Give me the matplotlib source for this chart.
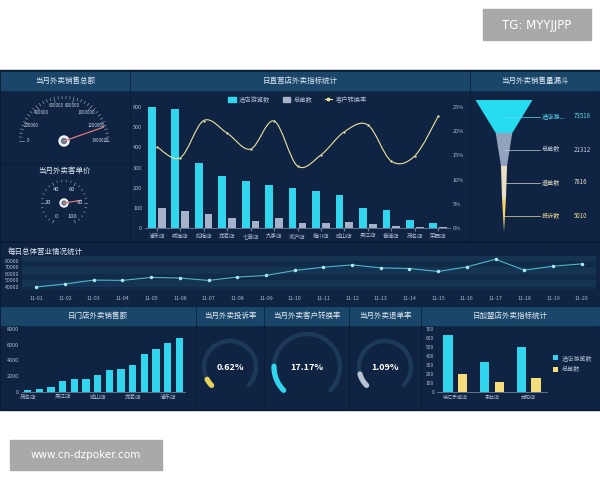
import numpy as np
import matplotlib.pyplot as plt
from matplotlib.patches import Rectangle, Polygon, Circle, PathPatch
from matplotlib.path import Path
from matplotlib.lines import Line2D

plt.rcParams['font.family'] = ['Noto Sans CJK SC', 'DejaVu Sans']

# ---- data ----
stores = ['浦东店', '威海店', '虹梅店', '龙茗店', '七莘店', '九亭店', '淞沪店',
          '梅川店', '成山店', '吴江店', '青浦店', '茂名店', '荣西店']
visits = [600, 592, 322, 258, 232, 215, 200, 183, 165, 98, 87, 38, 25]
orders = [100, 85, 70, 50, 35, 48, 25, 27, 32, 18, 10, 5, 5]
conv_rate = [16.8, 14.5, 22.2, 19.6, 16.3, 22.1, 12.8, 15.1, 19.9, 21.3, 13.8, 14.9, 23.1]

total_sales = 1250000
sales_ticks = [0, 200000, 400000, 600000, 800000, 1000000, 1200000, 1400000]
avg_price = 77
price_ticks = [0, 20, 40, 60, 80, 100]

funnel_labels = ['进店游...', '总单数', '退单数', '投诉数']
funnel_values = [73518, 21312, 7816, 5010]

days = ['11-01', '11-02', '11-03', '11-04', '11-05', '11-06', '11-07', '11-08', '11-09', '11-10',
        '11-11', '11-12', '11-13', '11-14', '11-15', '11-16', '11-17', '11-18', '11-19', '11-20']
daily_total = [40000, 44500, 50500, 50000, 54500, 53500, 50000, 55000, 57500, 65000,
               70000, 73500, 69000, 68000, 63500, 70500, 82000, 65500, 71500, 75000]

shop_names = ['茂名店', '荣西店', '青浦店', '吴江店', '梅川店', '淞沪店', '成山店',
              '九亭店', '七莘店', '龙茗店', '虹梅店', '威海店', '浦东店', '松江店']
shop_sales = [300, 420, 680, 1350, 1600, 1600, 2200, 2750, 2950, 3400, 4800, 5450, 6200, 6850]

complaint_rate = 0.62
convert_rate = 17.17
refund_rate = 1.09

franchise = ['徐汇乐城店', '东兰店', '龙柏店']
fr_visits = [630, 333, 500]
fr_orders = [200, 111, 155]

# ---- colours ----
BG = '#0a1a31'
PANEL = '#0e2442'
HEAD = '#1a4669'
TXT = '#e3ebf4'
TICK = '#aebdd0'
CYAN = '#31d6ee'
GRAY = '#a6b2c9'
YEL = '#f6dc7a'
RING = '#1c3a58'

fig = plt.figure(figsize=(6, 4.8), dpi=100)
fig.patch.set_facecolor('white')


def px(x, y, w, h):
    return [x / 600, 1 - (y + h) / 480, w / 600, h / 480]


bg = fig.add_axes([0, 0, 1, 1], zorder=0)
bg.set_xlim(0, 600)
bg.set_ylim(480, 0)
bg.axis('off')

bg.add_patch(Rectangle((0, 70), 600, 340, color=BG))

panels = [(1, 72, 128, 90), (1, 164, 128, 76), (131, 72, 338, 168), (471, 72, 128, 168),
          (1, 243, 598, 62),
          (1, 307, 194, 101), (197, 307, 66, 101), (265, 307, 83, 101),
          (350, 307, 70, 101), (422, 307, 177, 101)]
for x, y, w, h in panels:
    bg.add_patch(Rectangle((x, y), w, h, color=PANEL))

headers = [(1, 128, '当月外卖销售总额'), (131, 338, '日直营店外卖指标统计'),
           (471, 128, '当月外卖销售量漏斗')]
for x, w, t in headers:
    bg.add_patch(Rectangle((x, 72), w, 18, color=HEAD))
    bg.text(x + w / 2, 81, t, color=TXT, fontsize=5.4, ha='center', va='center')
headers3 = [(1, 194, '日门店外卖销售额'), (197, 66, '当月外卖投诉率'), (265, 83, '当月外卖客户转换率'),
            (350, 70, '当月外卖退单率'), (422, 177, '日加盟店外卖指标统计')]
for x, w, t in headers3:
    bg.add_patch(Rectangle((x, 307), w, 18, color=HEAD))
    bg.text(x + w / 2, 316, t, color=TXT, fontsize=5.4, ha='center', va='center')

bg.text(64, 171, '当月外卖客单价', color=TXT, fontsize=5.4, ha='center', va='center')
bg.text(8, 252, '每日总体营业情况统计', color=TXT, fontsize=5.4, ha='left', va='center')


# ---- needle gauges ----
def gauge(cx, cy, r, ticks, value, a0, a1, label_r, fs, needle_r, hub):
    vmin, vmax = ticks[0], ticks[-1]

    def ang(v):
        return np.radians(a0 + (v - vmin) / (vmax - vmin) * (a1 - a0))
    n = len(ticks) - 1
    for i in range(n * 5 + 1):
        v = vmin + (vmax - vmin) * i / (n * 5)
        t = ang(v)
        ln = r * 0.12 if i % 5 == 0 else r * 0.06
        bg.plot([cx + (r - ln) * np.cos(t), cx + r * np.cos(t)],
                [cy - (r - ln) * np.sin(t), cy - r * np.sin(t)],
                color='#8d9db3', lw=0.5)
    for v in ticks:
        t = ang(v)
        bg.text(cx + label_r * np.cos(t), cy - label_r * np.sin(t), str(v),
                color='#c9d3df', fontsize=fs, ha='center', va='center')
    t = ang(value)
    bg.plot([cx, cx + needle_r * np.cos(t)], [cy, cy - needle_r * np.sin(t)],
            color='#e07a7a', lw=0.9)
    bg.add_patch(Circle((cx, cy), hub, color='#f2f5f8'))
    bg.add_patch(Circle((cx, cy), hub * 0.5, color='#6c7a8c'))


gauge(64, 141, 45, sales_ticks, total_sales, 180, 0, 36, 3.2, 42, 5)
gauge(64, 203, 23, price_ticks, avg_price, 240, -60, 16, 4.2, 17, 4)


# ---- ring gauges ----
def ring(cx, cy, r, value, vmax, color, label):
    th = np.linspace(225, -45, 200)
    bg.plot(cx + r * np.cos(np.radians(th)), cy - r * np.sin(np.radians(th)),
            color=RING, lw=3.2, solid_capstyle='round')
    th = np.linspace(225, 225 - value / vmax * 270, 60)
    bg.plot(cx + r * np.cos(np.radians(th)), cy - r * np.sin(np.radians(th)),
            color=color, lw=3.8, solid_capstyle='round')
    bg.text(cx, cy + 1, label, color='white', fontsize=6.5, fontweight='bold',
            ha='center', va='center')


ring(230, 367, 26, complaint_rate, 10, '#e8d35a', '%.2f%%' % complaint_rate)
ring(307, 367, 33, convert_rate, 100, CYAN, '%.2f%%' % convert_rate)
ring(385, 367, 26, refund_rate, 10, '#b8c2d2', '%.2f%%' % refund_rate)

# ---- funnel ----
fcols = ['#27dcef', '#93a3bd', '#eadfc6', '#f3d46c']
lcols = ['#5fd8ee', '#c3cdda', '#e4dccb', '#efd98c']
fx, ftop, fh, fw = 504, 100, 33, 57
widths = [v / max(funnel_values) * fw for v in funnel_values] + [0]
for i, v in enumerate(funnel_values):
    y0, y1 = ftop + i * fh, ftop + (i + 1) * fh
    bg.add_patch(Polygon([(fx - widths[i] / 2, y0), (fx + widths[i] / 2, y0),
                          (fx + widths[i + 1] / 2, y1), (fx - widths[i + 1] / 2, y1)],
                         closed=True, color=fcols[i], lw=0))
    ym = (y0 + y1) / 2
    bg.plot([fx, 540], [ym, ym], color=lcols[i], lw=0.5)
    bg.text(542, ym, funnel_labels[i], color=lcols[i], fontsize=4.4, va='center')
    bg.text(574, ym, str(v), color=lcols[i], fontsize=4.4, va='center')


def style(ax, fs=4.0):
    ax.set_facecolor('none')
    for s in ax.spines.values():
        s.set_visible(False)
    ax.spines['bottom'].set_visible(True)
    ax.spines['bottom'].set_color('#6d8098')
    ax.spines['bottom'].set_linewidth(0.6)
    ax.tick_params(colors=TICK, labelsize=fs, length=0, pad=2)


# ---- direct stores chart ----
ax1 = fig.add_axes(px(145, 107, 305, 121))
x = np.arange(len(stores))
ax1.bar(x - 0.21, visits, 0.33, color=CYAN, label='进店游览数')
ax1.bar(x + 0.21, orders, 0.33, color=GRAY, label='总单数')
ax1.set_xlim(-0.5, len(stores) - 0.5)
ax1.set_ylim(0, 600)
ax1.set_yticks(range(0, 601, 100))
ax1.set_xticks(x)
ax1.set_xticklabels(stores, fontsize=4.5)
style(ax1)
ax1.tick_params(axis='x', length=2, color='#6d8098')

ax2 = ax1.twinx()
style(ax2)
ax2.spines['bottom'].set_visible(False)
ax2.set_ylim(0, 25)
ax2.set_yticks(range(0, 26, 5))
ax2.set_yticklabels(['%d%%' % v for v in range(0, 26, 5)])
pts = np.column_stack([x, conv_rate]).astype(float)
verts = [pts[0]]
codes = [Path.MOVETO]
for i in range(len(pts) - 1):
    p0 = pts[max(i - 1, 0)]
    p1 = pts[i]
    p2 = pts[i + 1]
    p3 = pts[min(i + 2, len(pts) - 1)]
    verts += [p1 + (p2 - p0) / 6, p2 - (p3 - p1) / 6, p2]
    codes += [Path.CURVE4] * 3
ax2.add_patch(PathPatch(Path(verts, codes), fc='none', ec='#ece49c', lw=0.8))
ax2.plot(x, conv_rate, 'o', ms=1.8, color='#f4efc0', mec='#3a4a3a', mew=0.2)

handles = [Rectangle((0, 0), 1, 1, color=CYAN), Rectangle((0, 0), 1, 1, color=GRAY),
           Line2D([], [], color='#ece49c', lw=0.8, marker='o', ms=1.8, mfc='#f4efc0')]
ax1.legend(handles, ['进店游览数', '总单数', '客户转换率'], loc='lower center',
           bbox_to_anchor=(0.5, 0.98), ncol=3, frameon=False, fontsize=4.5,
           labelcolor=TICK, handlelength=1.2, handleheight=0.9, columnspacing=2,
           handletextpad=0.5)

# ---- daily total line ----
ax3 = fig.add_axes(px(22, 256, 574, 34))
for k, lo in enumerate(range(30000, 90000, 10000)):
    ax3.axhspan(lo, lo + 10000, color='#153352' if k % 2 else '#102a47', lw=0, zorder=0)
ax3.plot(range(len(days)), daily_total, color='#4fb6cc', lw=0.8, marker='o', ms=1.5,
         mfc='#a6e8f3', mec='#a6e8f3')
ax3.set_xlim(-0.5, len(days) - 0.5)
ax3.set_ylim(35400, 87000)
ax3.set_yticks(range(40000, 80001, 10000))
ax3.set_xticks(range(len(days)))
ax3.set_xticklabels(days)
style(ax3, 3.8)
ax3.spines['bottom'].set_visible(False)
ax3.tick_params(axis='x', pad=4)

# ---- shop sales ----
ax4 = fig.add_axes(px(22, 329, 163, 63))
xs = np.arange(len(shop_names))
ax4.bar(xs, shop_sales, 0.62, color=CYAN)
ax4.set_xlim(-0.5, len(shop_names) - 0.5)
ax4.set_ylim(0, 8000)
ax4.set_yticks(range(0, 8001, 2000))
ax4.set_xticks(xs[::3])
ax4.set_xticklabels(shop_names[::3], fontsize=4.5)
style(ax4)

# ---- franchise stores ----
ax5 = fig.add_axes(px(437, 329, 110, 63))
xf = np.arange(len(franchise))
ax5.bar(xf - 0.2, fr_visits, 0.25, color=CYAN, label='进店游览数')
ax5.bar(xf + 0.2, fr_orders, 0.25, color=YEL, label='总单数')
ax5.set_xlim(-0.5, len(franchise) - 0.5)
ax5.set_ylim(0, 700)
ax5.set_yticks(range(0, 701, 100))
ax5.set_xticks(xf)
ax5.set_xticklabels(franchise, fontsize=4.4)
style(ax5, 3.6)
ax5.legend(loc='center left', bbox_to_anchor=(1.0, 0.45), frameon=False, fontsize=4.4,
           labelcolor=TICK, handlelength=0.9, handleheight=0.9, handletextpad=0.6,
           labelspacing=0.6)

# ---- overlay boxes ----
bg.add_patch(Rectangle((483, 9), 108, 31, color='#a9a9a9'))
bg.text(537, 25, 'TG: MYYJJPP', color='white', fontsize=8.5, ha='center', va='center',
        family='DejaVu Sans')
bg.add_patch(Rectangle((10, 440), 152, 30, color='#a9a9a9'))
bg.text(86, 455, 'www.cn-dzpoker.com', color='white', fontsize=7.5, ha='center',
        va='center', family='DejaVu Sans')

fig.savefig('out.png', dpi=100)
